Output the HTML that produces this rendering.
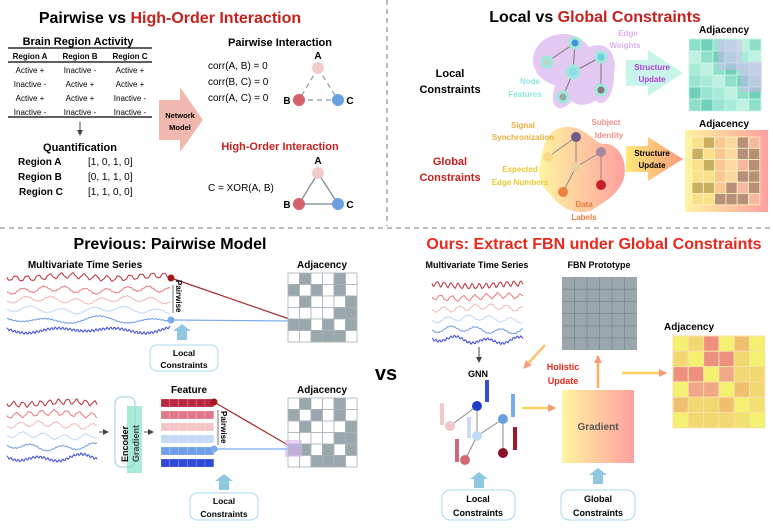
<!DOCTYPE html>
<html><head><meta charset="utf-8"><style>
body{margin:0;background:#fff}
svg{display:block;font-family:"Liberation Sans",sans-serif}
.b{font-weight:bold}
</style></head><body>
<svg id="s" width="773" height="528" viewBox="0 0 773 528" xmlns="http://www.w3.org/2000/svg">
<defs>
<linearGradient id="gy" x1="0" x2="1"><stop offset="0" stop-color="#fff4a0"/><stop offset="1" stop-color="#ffa0a0"/></linearGradient>
<linearGradient id="gar" x1="0" x2="1"><stop offset="0" stop-color="#ffe97a"/><stop offset="1" stop-color="#f79a7a"/></linearGradient>
<marker id="mo" markerUnits="userSpaceOnUse" markerWidth="8" markerHeight="8" refX="7" refY="4" orient="auto"><path d="M0,0L8,4L0,8z" fill="#f79a7a"/></marker>
<marker id="mk" markerUnits="userSpaceOnUse" markerWidth="6" markerHeight="6" refX="5" refY="3" orient="auto"><path d="M0,0L6,3L0,6z" fill="#444"/></marker>
</defs>
<line x1="387" y1="0" x2="387" y2="226" stroke="#777" stroke-dasharray="5,4"/>
<line x1="0" y1="228" x2="773" y2="228" stroke="#777" stroke-dasharray="5,4"/>

<text x="170" y="23" font-size="16" class="b" text-anchor="middle">Pairwise vs <tspan fill="#c8201c">High-Order Interaction</tspan></text>
<text x="78" y="45" font-size="11" class="b" text-anchor="middle">Brain Region Activity</text>
<line x1="8" y1="48" x2="152" y2="48" stroke="#000" stroke-width="1.2"/>
<line x1="8" y1="62" x2="152" y2="62" stroke="#000" stroke-width="1.2"/>
<line x1="8" y1="117" x2="152" y2="117" stroke="#000" stroke-width="1.2"/>
<g font-size="8" class="b" text-anchor="middle"><text x="30" y="59">Region A</text><text x="80" y="59">Region B</text><text x="130" y="59">Region C</text></g>
<g font-size="8" text-anchor="middle">
<text x="30" y="73">Active +</text><text x="80" y="73">Inactive -</text><text x="130" y="73">Active +</text>
<text x="30" y="87">Inactive -</text><text x="80" y="87">Active +</text><text x="130" y="87">Active +</text>
<text x="30" y="101">Active +</text><text x="80" y="101">Active +</text><text x="130" y="101">Inactive -</text>
<text x="30" y="115">Inactive -</text><text x="80" y="115">Inactive -</text><text x="130" y="115">Inactive -</text>
</g>
<line x1="80" y1="122" x2="80" y2="135" stroke="#444" marker-end="url(#mk)"/>
<text x="80" y="151" font-size="11" class="b" text-anchor="middle">Quantification</text>
<g font-size="10"><text x="18" y="165" class="b">Region A</text><text x="18" y="180" class="b">Region B</text><text x="19" y="195" class="b">Region C</text>
<text x="88" y="165">[1, 0, 1, 0]</text><text x="88" y="180">[0, 1, 1, 0]</text><text x="88" y="195">[1, 1, 0, 0]</text></g>
<path d="M159,100H180V87L203,120L180,152V140H159Z" fill="#f0b8ae"/>
<text x="180" y="118" font-size="7.5" class="b" text-anchor="middle">Network</text>
<text x="180" y="130" font-size="7.5" class="b" text-anchor="middle">Model</text>
<text x="280" y="46" font-size="11" class="b" text-anchor="middle">Pairwise Interaction</text>
<g font-size="10"><text x="208" y="69">corr(A, B) = 0</text><text x="208" y="85">corr(B, C) = 0</text><text x="208" y="101">corr(A, C) = 0</text><text x="208" y="191">C = XOR(A, B)</text></g>
<g stroke="#8a9aa0" stroke-width="1.2" stroke-dasharray="5,4"><line x1="318" y1="68" x2="299" y2="100"/><line x1="318" y1="68" x2="338" y2="100"/><line x1="299" y1="100" x2="338" y2="100"/></g>
<g stroke="#7a8a90" stroke-width="1.2"><line x1="318" y1="173" x2="299" y2="204"/><line x1="318" y1="173" x2="338" y2="204"/><line x1="299" y1="204" x2="338" y2="204"/></g>
<g><circle cx="318" cy="68" r="6" fill="#f2cccc"/><circle cx="299" cy="100" r="6" fill="#d4606c"/><circle cx="338" cy="100" r="6" fill="#6aa0e0"/>
<circle cx="318" cy="173" r="6" fill="#f2cccc"/><circle cx="299" cy="204" r="6" fill="#d4606c"/><circle cx="338" cy="204" r="6" fill="#6aa0e0"/></g>
<g font-size="10" class="b" text-anchor="middle"><text x="318" y="59">A</text><text x="287" y="104">B</text><text x="350" y="104">C</text>
<text x="318" y="164">A</text><text x="287" y="208">B</text><text x="350" y="208">C</text></g>
<text x="280" y="150" font-size="11" class="b" fill="#c8201c" text-anchor="middle">High-Order Interaction</text>

<text x="595" y="22" font-size="16" class="b" text-anchor="middle">Local vs <tspan fill="#c8201c">Global Constraints</tspan></text>
<g fill="#dcb8f0" opacity="0.75">
<ellipse cx="563" cy="60" rx="30" ry="26"/><ellipse cx="590" cy="75" rx="22" ry="32" transform="rotate(30 590 75)"/>
<ellipse cx="601" cy="75" rx="13" ry="28"/><ellipse cx="568" cy="85" rx="12" ry="25" transform="rotate(25 568 85)"/></g>
<g stroke="#777"><line x1="575" y1="43" x2="547" y2="62"/><line x1="575" y1="43" x2="573" y2="72"/><line x1="573" y1="72" x2="601" y2="57"/><line x1="573" y1="72" x2="563" y2="97"/><line x1="601" y1="57" x2="601" y2="90"/></g>
<g stroke="#9ee8dc" stroke-width="3"><circle cx="575" cy="43" r="5" fill="#4a90d8"/><circle cx="547" cy="62" r="5" fill="#b8d8c8"/><circle cx="573" cy="72" r="6" fill="#90dce8"/><circle cx="601" cy="57" r="5" fill="#70d0e0"/><circle cx="563" cy="97" r="5" fill="#9aa6a0"/><circle cx="601" cy="90" r="5" fill="#847878"/></g>
<g font-size="8" class="b" text-anchor="middle"><text x="628" y="36" fill="#e0b0f0">Edge</text><text x="625" y="48" fill="#e0b0f0">Weights</text>
<text x="530" y="84" fill="#8ee8dc">Node</text><text x="525" y="97" fill="#8ee8dc">Features</text></g>
<g font-size="11" class="b" text-anchor="middle"><text x="450" y="77">Local</text><text x="450" y="93">Constraints</text>
<text x="450" y="165" fill="#c8201c">Global</text><text x="450" y="181" fill="#c8201c">Constraints</text></g>
<path d="M626,60H648V50L683,73L648,96V86H626Z" fill="#c8f4ea"/>
<text x="652" y="70" font-size="8" class="b" fill="#b040e0" text-anchor="middle">Structure</text>
<text x="652" y="82" font-size="8" class="b" fill="#b040e0" text-anchor="middle">Update</text>
<text x="724" y="33" font-size="10" class="b" text-anchor="middle">Adjacency</text>
<g id="tm"></g>
<path d="M560,128C580,122 592,140 602,144C618,142 628,160 624,178C618,196 604,202 592,210C578,216 562,208 555,200C546,190 536,182 540,166C542,150 545,132 560,128Z" fill="url(#gy)"/>
<g stroke="#888"><line x1="576" y1="137" x2="548" y2="157"/><line x1="576" y1="137" x2="576" y2="167"/><line x1="576" y1="167" x2="601" y2="152"/><line x1="576" y1="167" x2="563" y2="192"/><line x1="601" y1="152" x2="601" y2="185"/></g>
<circle cx="576" cy="137" r="5" fill="#6e5a8a"/><circle cx="548" cy="157" r="5" fill="#fbd88a"/><circle cx="576" cy="167" r="5" fill="#e8d0a0"/><circle cx="601" cy="152" r="5" fill="#a88aa0"/><circle cx="563" cy="192" r="5" fill="#ee8040"/><circle cx="601" cy="185" r="5" fill="#c82028"/>
<g font-size="8" class="b" text-anchor="middle"><text x="523" y="128" fill="#e8b040">Signal</text><text x="523" y="140" fill="#e8b040">Synchronization</text>
<text x="606" y="125" fill="#f09088">Subject</text><text x="609" y="138" fill="#f09088">Identity</text>
<text x="520" y="172" fill="#e8c830">Expected</text><text x="520" y="185" fill="#e8c830">Edge Numbers</text>
<text x="584" y="207" fill="#ee7a40">Data</text><text x="584" y="220" fill="#ee7a40">Labels</text></g>
<path d="M626,146H648V137L683,159L648,181V172H626Z" fill="url(#gar)"/>
<text x="652" y="156" font-size="8" class="b" text-anchor="middle">Structure</text>
<text x="652" y="168" font-size="8" class="b" text-anchor="middle">Update</text>
<text x="724" y="127" font-size="10" class="b" text-anchor="middle">Adjacency</text>
<rect x="685" y="130" width="83" height="82" fill="url(#gy)"/>
<g id="gm"></g>

<text x="170" y="249" font-size="16" class="b" text-anchor="middle">Previous: Pairwise Model</text>
<text x="85" y="268" font-size="10" class="b" text-anchor="middle">Multivariate Time Series</text>
<g id="ts1" fill="none" stroke-width="1"></g>
<g id="ts2" fill="none" stroke-width="1"></g>
<line x1="171" y1="278" x2="295" y2="321" stroke="#a52a2a" stroke-width="1.2"/>
<line x1="171" y1="320" x2="292" y2="321" stroke="#7aaaf0" stroke-width="1.2"/>
<circle cx="171" cy="278" r="3.5" fill="#a01818"/><circle cx="171" cy="320" r="3.5" fill="#7aaaf0"/>
<line x1="173" y1="285" x2="173" y2="313" stroke="#555" stroke-width="0.8"/>
<text transform="translate(176,280) rotate(90)" font-size="8" class="b">Pairwise</text>
<text x="322" y="268" font-size="10" class="b" text-anchor="middle">Adjacency</text>
<g id="am1"></g>
<path d="M177,340V331H173L182,324L191,331H187V340Z" fill="#8ec8e0"/>
<rect x="150" y="345" width="68" height="26" rx="7" fill="#fff" stroke="#a8d8e8"/>
<text x="184" y="356" font-size="8.5" class="b" text-anchor="middle">Local</text><text x="184" y="368" font-size="8.5" class="b" text-anchor="middle">Constraints</text>

<line x1="99" y1="432" x2="108" y2="432" stroke="#555" marker-end="url(#mk)"/>
<line x1="144" y1="432" x2="153" y2="432" stroke="#555" marker-end="url(#mk)"/>
<rect x="127" y="406" width="15" height="67" fill="#a8ecd8"/>
<rect x="115" y="397" width="20" height="70" rx="6" fill="none" stroke="#9ad0e0"/>
<text transform="translate(128,462) rotate(-90)" font-size="9" class="b">Encoder</text>
<text transform="translate(139,462) rotate(-90)" font-size="9" class="b" fill="#444">Gradient</text>
<text x="189" y="393" font-size="10" class="b" text-anchor="middle">Feature</text>
<g id="fb"></g>
<line x1="214" y1="402" x2="293" y2="448" stroke="#a52a2a" stroke-width="1.2"/>
<line x1="214" y1="449" x2="292" y2="449" stroke="#7aaaf0" stroke-width="1.2"/>
<circle cx="214" cy="402" r="3.5" fill="#a01818"/><circle cx="214" cy="449" r="3.5" fill="#7aaaf0"/>
<line x1="218" y1="410" x2="218" y2="445" stroke="#555" stroke-width="0.8"/>
<text transform="translate(221,411) rotate(90)" font-size="8" class="b">Pairwise</text>
<text x="322" y="393" font-size="10" class="b" text-anchor="middle">Adjacency</text>
<g id="am2"></g>
<rect x="285" y="440" width="17" height="17" fill="#d8b8f0" opacity="0.6"/>
<path d="M219,490V481H215L224,474L233,481H229V490Z" fill="#8ec8e0"/>
<rect x="190" y="493" width="68" height="27" rx="7" fill="#fff" stroke="#a8d8e8"/>
<text x="224" y="504" font-size="8.5" class="b" text-anchor="middle">Local</text><text x="224" y="517" font-size="8.5" class="b" text-anchor="middle">Constraints</text>
<text x="386" y="380" font-size="20" class="b" text-anchor="middle">vs</text>

<text x="594" y="249" font-size="16" class="b" fill="#e8281c" text-anchor="middle">Ours: Extract FBN under Global Constraints</text>
<text x="477" y="268" font-size="9" class="b" text-anchor="middle">Multivariate Time Series</text>
<text x="599" y="268" font-size="9" class="b" text-anchor="middle">FBN Prototype</text>
<g id="ts3" fill="none" stroke-width="1"></g>
<line x1="479" y1="347" x2="479" y2="362" stroke="#444" marker-end="url(#mk)"/>
<text x="478" y="377" font-size="9" class="b" text-anchor="middle">GNN</text>
<rect x="562" y="277" width="75" height="73" fill="#9aa8ae"/>
<g id="pg" stroke="#7d8a90" stroke-width="0.8"></g>
<line x1="545" y1="345" x2="524" y2="368" stroke="#ffc070" stroke-width="2.5" marker-end="url(#mo)"/>
<text x="563" y="370" font-size="9" class="b" fill="#e8281c" text-anchor="middle">Holistic</text>
<text x="563" y="384" font-size="9" class="b" fill="#e8281c" text-anchor="middle">Update</text>
<rect x="562" y="390" width="72" height="73" fill="url(#gy)"/>
<text x="598" y="430" font-size="10" class="b" fill="#555" text-anchor="middle">Gradient</text>
<line x1="598" y1="388" x2="598" y2="356" stroke="#ffb060" stroke-width="2.5" marker-end="url(#mo)"/>
<line x1="622" y1="373" x2="666" y2="373" stroke="#ffd060" stroke-width="2.5" marker-end="url(#mo)"/>
<line x1="522" y1="408" x2="555" y2="408" stroke="#ffd060" stroke-width="2.5" marker-end="url(#mo)"/>
<text x="689" y="330" font-size="10" class="b" text-anchor="middle">Adjacency</text>
<g id="ym"></g>
<g stroke="#888"><line x1="477" y1="406" x2="450" y2="426"/><line x1="477" y1="406" x2="477" y2="436"/><line x1="477" y1="436" x2="503" y2="419"/><line x1="477" y1="436" x2="465" y2="460"/><line x1="503" y1="419" x2="503" y2="453"/></g>
<rect x="485" y="380" width="4" height="22" fill="#3050c8"/><rect x="440" y="403" width="4" height="22" fill="#f2caca"/><rect x="467" y="417" width="4" height="21" fill="#c8dcf4"/><rect x="511" y="394" width="4" height="23" fill="#7aaaf0"/><rect x="455" y="439" width="4" height="23" fill="#d06878"/><rect x="513" y="427" width="4" height="23" fill="#a01830"/>
<circle cx="477" cy="406" r="5" fill="#2040c8"/><circle cx="450" cy="426" r="5" fill="#f0c8c8"/><circle cx="477" cy="436" r="5" fill="#c0dcf4"/><circle cx="503" cy="419" r="5" fill="#6aa0e0"/><circle cx="465" cy="460" r="5" fill="#d06878"/><circle cx="503" cy="453" r="5" fill="#8a1028"/>
<path d="M474,488V479H470L479,472L488,479H484V488Z" fill="#8ec8e0"/>
<path d="M593,484V475H589L598,468L607,475H603V484Z" fill="#8ec8e0"/>
<rect x="442" y="490" width="73" height="30" rx="8" fill="#fff" stroke="#a8d8e8"/>
<text x="478" y="502" font-size="9" class="b" text-anchor="middle">Local</text><text x="478" y="516" font-size="9" class="b" text-anchor="middle">Constraints</text>
<rect x="561" y="490" width="74" height="30" rx="8" fill="#fff" stroke="#a8d8e8"/>
<text x="598" y="502" font-size="9" class="b" text-anchor="middle">Global</text><text x="598" y="516" font-size="9" class="b" text-anchor="middle">Constraints</text>
</svg>
<script>
var NS="http://www.w3.org/2000/svg";
function el(p,t,a){var e=document.createElementNS(NS,t);for(var k in a)e.setAttribute(k,a[k]);document.getElementById(p).appendChild(e);return e;}
var cols=["#b83038","#e87a80","#f5b8b8","#c4daf6","#6e9ee8","#3848d8"];
function ts(id,x0,x1,ys,freqs){for(var i=0;i<6;i++){var d="";for(var x=x0;x<=x1;x+=1){var y=ys[i]+Math.sin((x-x0)*freqs[i])*2.5+Math.sin(x*1.7+i)*0.8*(i==5?1.5:0.6)+Math.sin(x*0.07+i)*1.5;d+=(x==x0?"M":"L")+x+","+y.toFixed(1);}el(id,"path",{d:d,stroke:cols[i]});}}
ts("ts1",7,170,[277,290,300,310,320,330],[0.55,0.3,0.25,0.2,0.12,0.1]);
ts("ts2",7,97,[403,414,425,436,447,458],[0.7,0.5,0.35,0.3,0.2,0.15]);
ts("ts3",432,523,[285,297,308,319,330,340],[0.9,0.55,0.4,0.3,0.25,0.2]);
var A=[[0,1,0,0,1,0],[1,0,1,0,1,0],[0,1,0,0,0,1],[0,0,0,0,1,1],[1,1,0,1,0,1],[0,0,1,1,1,0]];
function mat(id,x,y,s){for(var r=0;r<6;r++)for(var c=0;c<6;c++)el(id,"rect",{x:x+c*s,y:y+r*s,width:s,height:s,fill:A[r][c]?"#9aa8ae":"#fff",stroke:"#a8b2b6","stroke-width":0.8});}
mat("am1",288,273,11.5);mat("am2",288,398,11.5);
var tc=["#8ee0c8","#a8ecd8","#70d0b8","#c0f0e0","#98e4d0"];
for(var r=0;r<6;r++)for(var c=0;c<6;c++)el("tm","rect",{x:689+c*12,y:39+r*12,width:12,height:12,fill:tc[(r*3+c*2)%5],stroke:"#c8f4ea","stroke-width":0.8});
el("tm","rect",{x:718,y:40,width:24,height:30,fill:"#d8b8f0",opacity:0.5});el("tm","rect",{x:740,y:62,width:22,height:30,fill:"#d8b8f0",opacity:0.5});
var gc=["#fbe08a","#c8b060","#f8c890","#fcd8a0","#b8907a","#f8b8a0"];
var G=[[0,1,2,3,4,5],[1,0,2,3,4,4],[0,1,2,3,5,4],[0,0,2,3,4,4],[1,1,2,4,5,4],[0,0,4,4,4,5]];
for(var r=0;r<6;r++)for(var c=0;c<6;c++)el("gm","rect",{x:692+c*11.3,y:137+r*11.3,width:11.3,height:11.3,fill:gc[G[r][c]],stroke:"#fff4c0","stroke-width":0.8});
for(var i=1;i<6;i++){el("pg","line",{x1:562+i*12.5,y1:277,x2:562+i*12.5,y2:350});el("pg","line",{x1:562,y1:277+i*12.2,x2:637,y2:277+i*12.2});}
var yc=["#f4f070","#f2d870","#ee9080","#f0a888","#f0c070","#f2e070"];
var Y=[[0,1,2,0,4,0],[1,0,2,2,1,0],[2,2,0,3,1,1],[0,3,3,0,4,1],[4,1,1,4,0,5],[0,1,1,1,5,0]];
for(var r=0;r<6;r++)for(var c=0;c<6;c++)el("ym","rect",{x:673+c*15.3,y:336+r*15.3,width:15.3,height:15.3,fill:yc[Y[r][c]],stroke:"#f8e0a0","stroke-width":1});
var fc=["#b82840","#e07888","#f6c4c4","#c4daf6","#6e9ee8","#3048d8"];
for(var i=0;i<6;i++)for(var c=0;c<6;c++)el("fb","rect",{x:161+c*8.8,y:399+i*12,width:8.8,height:8,fill:fc[i],stroke:"rgba(255,255,255,0.35)","stroke-width":0.5});
</script>
</body></html>
